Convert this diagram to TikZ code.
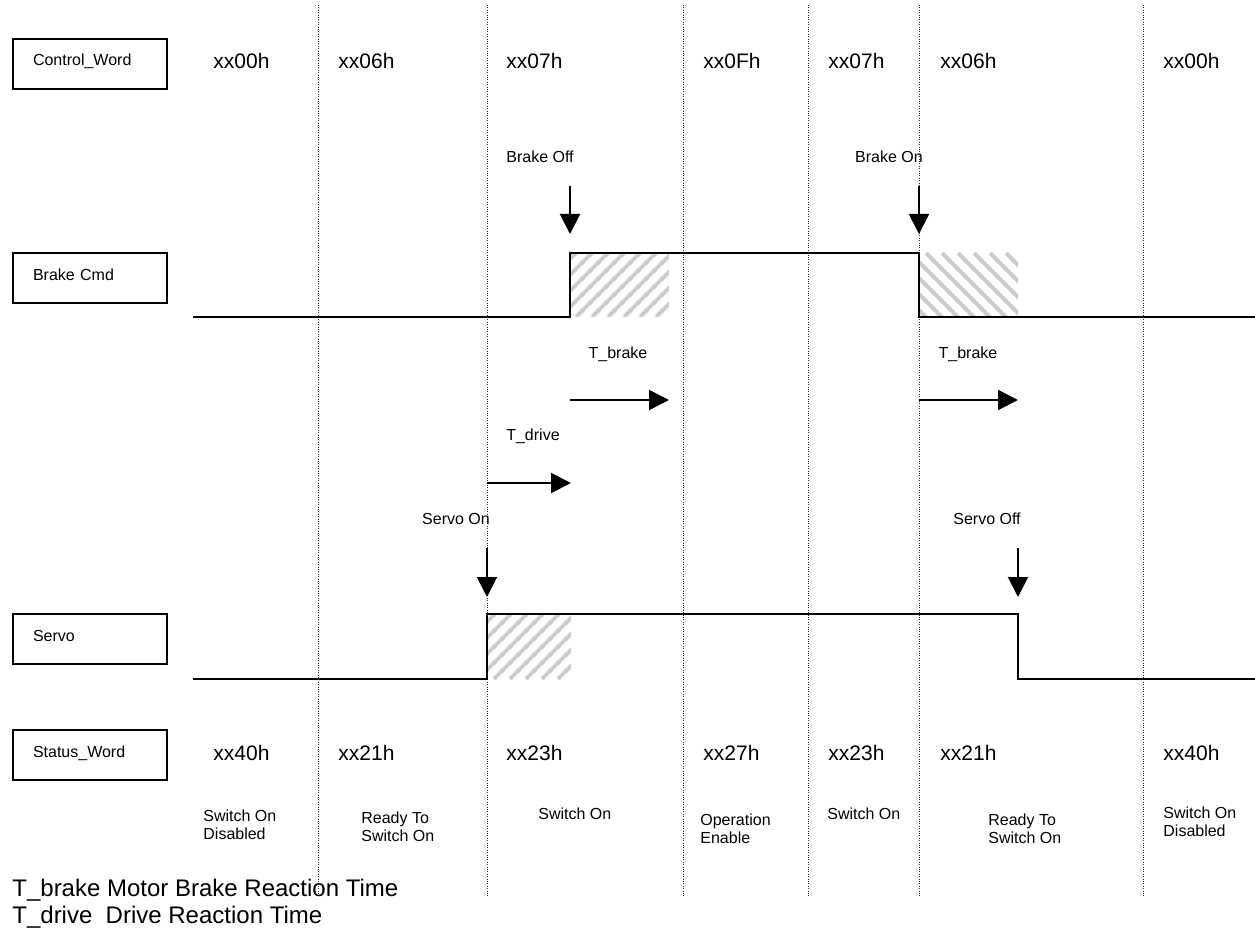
\documentclass[tikz,border=0pt]{standalone}
\usepackage{fontspec}
\setmainfont{Liberation Sans}
\usetikzlibrary{arrows.meta, positioning}

\begin{document}
\begin{tikzpicture}[
  x=0.5pt, y=-0.5pt,
  font=\fontsize{8}{9.5}\selectfont,
  sigbox/.style={
    draw=black, line width=1pt, anchor=north west,
    minimum height=25pt, text width=57pt, inner xsep=10pt,
    text height=6pt, text depth=4pt, align=left
  },
  value/.style={anchor=west, inner sep=0pt, font=\fontsize{10.5}{12}\selectfont},
  state/.style={anchor=west, inner sep=0pt, align=left, font=\fontsize{8}{9}\selectfont},
  tag/.style={inner sep=0pt},
  legend/.style={anchor=west, inner sep=0pt, font=\fontsize{12}{13.5}\selectfont},
  wave/.style={line width=1pt},
  cue/.style={line width=1pt, -{Triangle[length=10pt, width=10pt]}},
  divider/.style={dash pattern=on 0.5pt off 0.7pt, line width=0.5pt, black!85},
  stripe/.style={gray!40, line width=2.1pt}
]
  \useasboundingbox (0,0) rectangle (1255,931);

  % hatched reaction windows
  \begin{scope}
    \clip (570,253) rectangle (669,317);
    \foreach \x in {496,512,...,680} \draw[stripe] (\x,317) -- ++(64,-64);
  \end{scope}
  \begin{scope}
    \clip (919,253) rectangle (1018,317);
    \foreach \x in {846,862,...,1030} \draw[stripe] (\x,253) -- ++(64,64);
  \end{scope}
  \begin{scope}
    \clip (487,614) rectangle (571,679);
    \foreach \x in {414,430,...,580} \draw[stripe] (\x,679) -- ++(65,-65);
  \end{scope}

  % state boundaries
  \foreach \x in {318,487,683,808,919,1143}
    \draw[divider] (\x,5) -- (\x,897);

  % signal names
  \node[sigbox] (cw) at (12,38) {Control\_Word};
  \node[sigbox] (bc) at (12,252) {Brake Cmd};
  \node[sigbox] (sv) at (12,613) {Servo};
  \node[sigbox] (sw) at (12,729) {Status\_Word};

  % words
  \foreach \x/\v [count=\i] in {213/xx00h, 338/xx06h, 506/xx07h, 703/xx0Fh, 828/xx07h, 940/xx06h, 1163/xx00h}
    \node[value] (ctl\i) at (\x,61) {\v};
  \foreach \x/\v [count=\i] in {213/xx40h, 338/xx21h, 506/xx23h, 703/xx27h, 828/xx23h, 940/xx21h, 1163/xx40h}
    \node[value] (sts\i) at (\x,753) {\v};

  % waveforms
  \draw[wave] (193,317) -- (570,317) -- (570,253) -- (919,253) -- (919,317) -- (1255,317);
  \draw[wave] (193,679) -- (487,679) -- (487,614) -- (1018,614) -- (1018,679) -- (1255,679);

  % events
  \node[tag] (boff) at (540,157) {Brake Off};
  \node[tag] (bon) at (889,157) {Brake On};
  \node[tag] (son) at (456,519) {Servo On};
  \node[tag] (soff) at (987,519) {Servo Off};
  \coordinate (boff-a) at (570,186);
  \coordinate (boff-b) at (570,234);
  \coordinate (bon-a) at (919,186);
  \coordinate (bon-b) at (919,234);
  \coordinate (son-a) at (487,548);
  \coordinate (son-b) at (487,597);
  \coordinate (soff-a) at (1018,548);
  \coordinate (soff-b) at (1018,597);
  \draw[cue] (boff-a) -- (boff-b);
  \draw[cue] (bon-a) -- (bon-b);
  \draw[cue] (son-a) -- (son-b);
  \draw[cue] (soff-a) -- (soff-b);

  % reaction times
  \node[tag] (tbr1) at (618,354) {T\_brake};
  \node[tag] (tbr2) at (968,354) {T\_brake};
  \node[tag] (tdr) at (533,436) {T\_drive};
  \coordinate (tbr1-a) at (570,400);
  \coordinate (tbr1-b) at (669,400);
  \coordinate (tbr2-a) at (919,400);
  \coordinate (tbr2-b) at (1018,400);
  \coordinate (tdr-a) at (487,483);
  \coordinate (tdr-b) at (571,483);
  \draw[cue] (tbr1-a) -- (tbr1-b);
  \draw[cue] (tbr2-a) -- (tbr2-b);
  \draw[cue] (tdr-a) -- (tdr-b);

  % states
  \node[state] (st1) at (203,825) {Switch On\\Disabled};
  \node[state] (st2) at (361,827) {Ready To\\Switch On};
  \node[state] (st3) at (538,814) {Switch On};
  \node[state] (st4) at (700,829) {Operation\\Enable};
  \node[state] (st5) at (827,814) {Switch On};
  \node[state] (st6) at (988,829) {Ready To\\Switch On};
  \node[state] (st7) at (1163,822) {Switch On\\Disabled};

  % legend
  \node[legend] (lg1) at (12,890) {T\_brake Motor Brake Reaction Time};
  \node[legend] (lg2) at (12,917) {T\_drive\ \ Drive Reaction Time};
\end{tikzpicture}
\end{document}
